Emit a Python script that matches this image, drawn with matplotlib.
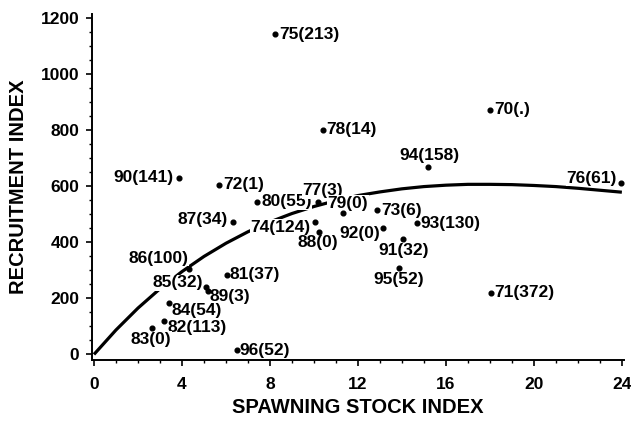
import matplotlib
matplotlib.use("Agg")
import matplotlib.pyplot as plt
from matplotlib.ticker import MultipleLocator

# ---- data ----
labels = ["75(213)", "78(14)", "70(.)", "94(158)", "76(61)", "90(141)", "72(1)",
          "80(55)", "77(3)", "79(0)", "73(6)", "93(130)", "87(34)", "74(124)",
          "88(0)", "92(0)", "91(32)", "95(52)", "71(372)", "86(100)", "85(32)",
          "89(3)", "81(37)", "84(54)", "82(113)", "83(0)", "96(52)"]
stock = [8.23, 10.39, 18.0, 15.17, 23.98, 3.88, 5.70,
         7.42, 10.17, 11.33, 12.88, 14.70, 6.33, 10.05,
         10.23, 13.15, 14.06, 13.86, 18.03, 4.33, 5.09,
         5.18, 6.03, 3.41, 3.20, 2.64, 6.48]
recruit = [1141, 800, 871, 667, 612, 630, 604,
           544, 542, 503, 514, 467, 473, 471,
           437, 449, 410, 307, 220, 303, 240,
           226, 283, 184, 119, 93, 15]

# fitted curve
curve_x = [0, 1, 2, 3, 4, 5, 6, 7, 8, 9, 10, 11, 12, 13, 14, 15, 16, 17, 18, 19, 20, 21, 22, 23, 24]
curve_y = [0, 87, 165, 234, 295, 349, 396, 437, 472, 502, 527, 548, 566, 579, 590, 598, 603,
           606, 606, 605, 602, 598, 592, 585, 578]

x_ticks = [0, 4, 8, 12, 16, 20, 24]
y_ticks = [0, 200, 400, 600, 800, 1000, 1200]

# ---- label placement (pixel offsets from the dot; +y is up) and alignment ----
label_offsets_px = [(4, 0), (4, 0), (4, 0), (1.5, 12), (-5, 4.5), (-6, 0), (4, 0),
                    (4, 0), (5, 11.6), (4.7, 10), (4, 0), (3, 0), (-5, 1.7), (-5, -5),
                    (-0.7, -11), (-3.3, -5), (0, -11.4), (0, -11), (4, 0), (-1, 11), (-2.7, 4.3),
                    (2, -5.7), (3.3, 0), (2.7, -8), (3, -6.3), (-1.2, -11), (3.3, 0)]
label_ha = ["left", "left", "left", "center", "right", "right", "left",
            "left", "center", "center", "left", "left", "right", "right",
            "center", "right", "center", "center", "left", "right", "right",
            "left", "left", "left", "left", "center", "left"]

FONT = "Liberation Sans"
plt.rcParams["font.family"] = [FONT, "DejaVu Sans"]
plt.rcParams["font.weight"] = "bold"

fig = plt.figure(figsize=(6.31, 4.25), dpi=100)
ax = fig.add_axes([0.1458, 0.1529, 0.989 - 0.1458, 0.9664 - 0.1529])

ax.plot(curve_x, curve_y, color="black", lw=2.3, zorder=1,
        solid_capstyle="butt", solid_joinstyle="round")

for lab, x, y, off, ha in zip(labels, stock, recruit, label_offsets_px, label_ha):
    ax.annotate(lab, xy=(x, y), xytext=(off[0] * 0.72, off[1] * 0.72),
                textcoords="offset points", ha=ha, va="center",
                fontsize=12.5, fontweight="bold", color="black", zorder=2,
                bbox=dict(facecolor="white", edgecolor="none", pad=0.3))

ax.plot(stock, recruit, "o", color="black", markersize=3.4, zorder=3, clip_on=False)

ax.set_xlim(-0.09, 24.1)
ax.set_ylim(-20, 1212)
ax.set_xticks(x_ticks)
ax.set_yticks(y_ticks)
ax.set_xticklabels([str(t) for t in x_ticks])
ax.set_yticklabels([str(t) for t in y_ticks])
ax.xaxis.set_minor_locator(MultipleLocator(1))
ax.yaxis.set_minor_locator(MultipleLocator(50))

for s in ["top", "right"]:
    ax.spines[s].set_visible(False)
for s in ["left", "bottom"]:
    ax.spines[s].set_linewidth(1.4)

ax.tick_params(which="major", direction="out", length=4.5, width=1.2, labelsize=12.5)
ax.tick_params(which="minor", direction="out", length=2.5, width=1.0)
ax.tick_params(axis="x", which="major", pad=8)
ax.tick_params(axis="y", which="major", pad=4.5)
for t in ax.get_xticklabels() + ax.get_yticklabels():
    t.set_fontweight("bold")

ax.set_xlabel("SPAWNING STOCK INDEX", fontsize=14.5, fontweight="bold", labelpad=4)
ax.set_ylabel("RECRUITMENT INDEX", fontsize=14.5, fontweight="bold", labelpad=9)

fig.savefig("out.png", dpi=100, facecolor="white")
